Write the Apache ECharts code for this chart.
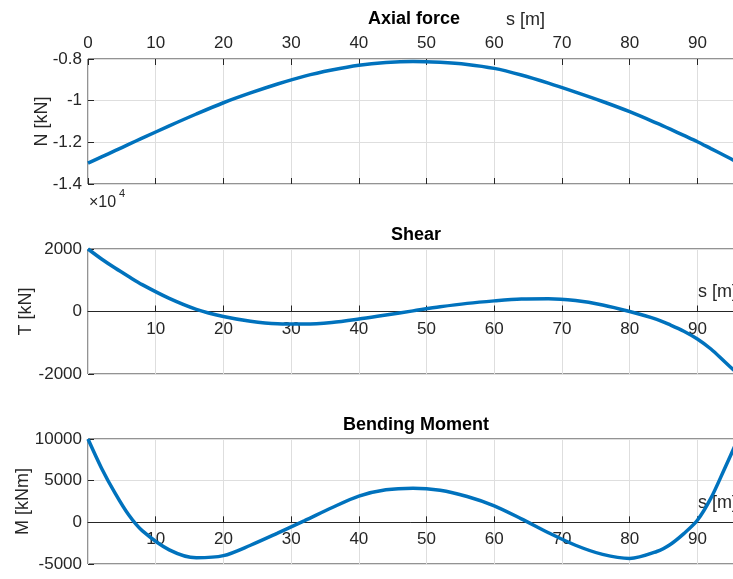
<!DOCTYPE html>
<html><head><meta charset="utf-8">
<script src="https://cdn.jsdelivr.net/npm/echarts@6/dist/echarts.min.js"></script>
<style>html,body{margin:0;padding:0;background:#fff}#c{width:733px;height:579px}</style>
</head><body><div id="c"></div>
<script>
// positions along the beam s [m]
const sPos = [0,2,4,6,8,12,16,20,24,28,32,36,40,44,48,52,56,60,64,68,72,76,80,84,86,88,90,92,94,96];
// Axial force N [kN]
const axialForce = [-13000,-12700,-12400,-12100,-11800,-11210,-10640,-10100,-9630,-9200,-8820,-8530,-8300,-8170,-8120,-8160,-8260,-8450,-8770,-9160,-9590,-10040,-10530,-11080,-11370,-11670,-11970,-12300,-12630,-12970];
// Shear T [kN]
const shear = [2000,1680,1390,1120,860,420,70,-160,-310,-390,-400,-350,-240,-110,20,150,260,340,400,410,350,210,0,-250,-430,-630,-880,-1200,-1600,-2000];
// Bending moment M [kNm]
const moment = [10000,6500,3500,900,-1000,-3300,-4250,-4000,-2750,-1300,200,1750,3150,3900,4100,3850,3100,1980,420,-1250,-2750,-3850,-4330,-3500,-2650,-1350,250,2900,6400,10000];
// axis ticks
const sTicks = [0,10,20,30,40,50,60,70,80,90];
const nTicks = [-14000,-12000,-10000,-8000];
const tTicks = [-2000,0,2000];
const mTicks = [-5000,0,5000,10000];
const sMax = 96;

const FONT = "'Liberation Sans', Arial, Helvetica, sans-serif";
const AX = '#262626', GRIDC = '#dedede', LINE = '#0072BD';
const GRID_H = 125;

function yAx(idx, ticks, name, gap, fmt) {
  return {
    type: 'value', gridIndex: idx,
    min: ticks[0], max: ticks[ticks.length - 1], interval: ticks[1] - ticks[0],
    axisLine: { show: false },
    axisTick: { show: true, inside: true, length: 6, lineStyle: { color: AX } },
    axisLabel: { margin: 6, fontSize: 17, color: AX, fontFamily: FONT, formatter: fmt || (v => String(v)) },
    splitLine: { show: true, lineStyle: { color: GRIDC, width: 1 } },
    name: name, nameLocation: 'middle', nameGap: gap, nameRotate: 90, nameMoveOverlap: false,
    nameTextStyle: { fontSize: 18, color: AX, fontFamily: FONT }
  };
}
function xAx(idx, opts) {
  return Object.assign({
    type: 'value', gridIndex: idx, min: sTicks[0], max: sMax, interval: sTicks[1] - sTicks[0],
    axisTick: { show: true, inside: true, length: 6, lineStyle: { color: AX } },
    axisLabel: { show: true, margin: 9, fontSize: 17, color: AX, fontFamily: FONT, showMaxLabel: false, formatter: v => String(v) },
    splitLine: { show: true, lineStyle: { color: GRIDC, width: 1 } }
  }, opts);
}
// place a bottom x axis at y = 0 of its grid
function zeroOffset(ticks) {
  const lo = ticks[0], hi = ticks[ticks.length - 1];
  return -GRID_H * (0 - lo) / (hi - lo);
}
const gridBase = { left: 88, width: 650, height: GRID_H, show: true, borderColor: AX, borderWidth: 1,
  backgroundColor: 'transparent', outerBoundsMode: 'none', containLabel: false };

function pairs(arr) { return sPos.map((s, i) => [s, arr[i]]); }
function lineSeries(xi, yi, arr) {
  return { type: 'line', xAxisIndex: xi, yAxisIndex: yi, data: pairs(arr), showSymbol: false, symbol: 'none',
    smooth: 0.3, clip: false, lineStyle: { color: LINE, width: 3.5 }, silent: true, animation: false };
}
function txt(x, y, text, size, weight, align, color) {
  return { type: 'text', x: x, y: y, silent: true,
    style: { text: text, fontSize: size, fontWeight: weight || 'normal', fontFamily: FONT,
      fill: color || AX, align: align || 'center', verticalAlign: 'middle' } };
}
const zeroLabel = { show: true, margin: 9, fontSize: 17, color: AX, fontFamily: FONT, showMinLabel: false, showMaxLabel: false, formatter: v => String(v) };

const option = {
  animation: false,
  backgroundColor: '#fff',
  grid: [
    Object.assign({ top: 59 }, gridBase),
    Object.assign({ top: 249 }, gridBase),
    Object.assign({ top: 439 }, gridBase)
  ],
  xAxis: [
    xAx(0, { position: 'top', axisLine: { show: false }, axisLabel: { show: true, margin: 7, fontSize: 17, color: AX, fontFamily: FONT, showMaxLabel: false, formatter: v => String(v) } }),
    xAx(0, { position: 'bottom', axisLine: { show: false }, axisLabel: { show: false }, splitLine: { show: false } }),
    xAx(1, { position: 'bottom', offset: zeroOffset(tTicks), axisLine: { show: true, onZero: false, lineStyle: { color: AX, width: 1 } }, axisLabel: zeroLabel }),
    xAx(2, { position: 'bottom', offset: zeroOffset(mTicks), axisLine: { show: true, onZero: false, lineStyle: { color: AX, width: 1 } }, axisLabel: Object.assign({}, zeroLabel, { margin: 8 }) })
  ],
  yAxis: [
    yAx(0, nTicks, 'N [kN]', 37, v => String(v / 10000)),
    yAx(1, tTicks, 'T [kN]', 53),
    yAx(2, mTicks, 'M [kNm]', 56)
  ],
  series: [
    lineSeries(0, 0, axialForce),
    lineSeries(2, 1, shear),
    lineSeries(3, 2, moment)
  ],
  graphic: [
    txt(414, 19, 'Axial force', 18, 'bold', 'center', '#000'),
    txt(506, 20, 's [m]', 18, 'normal', 'left'),
    txt(89, 203, '×10', 16, 'normal', 'left'),
    txt(119, 194, '4', 11, 'normal', 'left'),
    txt(416, 235, 'Shear', 18, 'bold', 'center', '#000'),
    txt(698, 292, 's [m]', 18, 'normal', 'left'),
    txt(416, 425, 'Bending Moment', 18, 'bold', 'center', '#000'),
    txt(698, 503, 's [m]', 18, 'normal', 'left')
  ]
};
const chart = echarts.init(document.getElementById('c'), null, { renderer: 'canvas' });
chart.setOption(option);
</script>
</body></html>
